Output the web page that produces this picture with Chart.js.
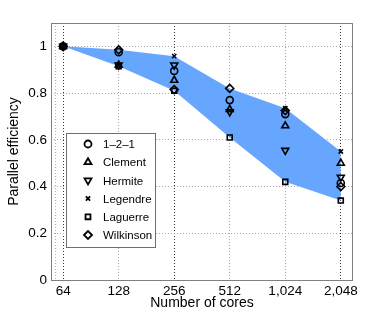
<!DOCTYPE html>
<html>
<head>
<meta charset="utf-8">
<script src="https://cdn.jsdelivr.net/npm/chart.js@4.4.1/dist/chart.umd.min.js"></script>
<style>
  html, body { margin: 0; padding: 0; background: #fff; }
  #wrap { width: 390px; height: 314px; }
</style>
</head>
<body>
<div id="wrap"><canvas id="myChart" width="390" height="314"></canvas></div>
<script>
  // cores on the x axis, efficiency per method
  let cores = [64, 128, 256, 512, 1024, 2048];
  let coreLabels = ['64', '128', '256', '512', '1,024', '2,048'];
  let yTicks = [0, 0.2, 0.4, 0.6, 0.8, 1];

  let oneTwoOne = [1, 0.975, 0.895, 0.77, 0.71, 0.415];
  let clement   = [1, 0.92, 0.855, 0.73, 0.66, 0.50];
  let hermite   = [1, 0.92, 0.92, 0.72, 0.555, 0.44];
  let legendre  = [1, 0.92, 0.958, 0.725, 0.735, 0.55];
  let laguerre  = [1, 0.915, 0.81, 0.61, 0.42, 0.34];
  let wilkinson = [1, 0.985, 0.815, 0.82, 0.725, 0.40];

  let names   = ['1\u20132\u20131', 'Clement', 'Hermite', 'Legendre', 'Laguerre', 'Wilkinson'];
  let series  = [oneTwoOne, clement, hermite, legendre, laguerre, wilkinson];
  let styles  = ['circle', 'triangle', 'triangle', 'crossRot', 'rect', 'rectRot'];
  let rots    = [0, 0, 180, 0, 0, 0];
  let radii   = [3.5, 4, 4, 3, 3.5, 4];

  const font = "'Liberation Sans', Arial, sans-serif";

  let datasets = [];
  for (let i = 0; i < series.length; i++) {
    datasets.push({
      label: names[i],
      data: cores.map((c, j) => ({x: c, y: series[i][j]})),
      showLine: false,
      pointStyle: styles[i],
      rotation: rots[i],
      pointRadius: radii[i],
      borderColor: '#000',
      backgroundColor: 'rgba(0,0,0,0)',
      pointBorderWidth: 1.6,
      order: 0
    });
  }
  // min/max envelope of all methods
  let upper = cores.map((c, j) => ({x: c, y: Math.max(...series.map(s => s[j]))}));
  let lower = cores.map((c, j) => ({x: c, y: Math.min(...series.map(s => s[j]))}));
  datasets.push({ label: 'max', data: upper, showLine: true, borderWidth: 0, pointRadius: 0, fill: false, order: 10 });
  datasets.push({ label: 'min', data: lower, showLine: true, borderWidth: 0, pointRadius: 0,
    fill: '-1', backgroundColor: '#66a6ff', order: 10 });

  const boxAndLegend = {
    id: 'boxAndLegend',
    afterDatasetsDraw(chart) {
      const ctx = chart.ctx;
      const a = chart.chartArea;
      ctx.save();
      ctx.strokeStyle = '#808080';
      ctx.lineWidth = 1;
      ctx.strokeRect(a.left + 0.5, a.top + 0.5, a.right - a.left - 1, a.bottom - a.top);

      // legend box
      let lx = 66, ly = 133, lw = 89, lh = 114;
      ctx.fillStyle = '#fff';
      ctx.fillRect(lx, ly, lw, lh);
      ctx.strokeStyle = '#707070';
      ctx.strokeRect(lx + 0.5, ly + 0.5, lw, lh);
      ctx.font = '11.5px ' + font;
      ctx.textBaseline = 'middle';
      for (let i = 0; i < names.length; i++) {
        let y = ly + 11 + i * 18.2;
        ctx.strokeStyle = '#000';
        ctx.fillStyle = 'rgba(0,0,0,0)';
        ctx.lineWidth = 1.8;
        Chart.helpers.drawPoint(ctx, {pointStyle: styles[i], rotation: rots[i], radius: radii[i], borderWidth: 1.8}, 88, y);
        ctx.fillStyle = '#000';
        ctx.fillText(names[i], 103, y + 1);
      }
      ctx.restore();
    }
  };

  let ctx = document.getElementById('myChart').getContext('2d');
  let chart = new Chart(ctx, {
    type: 'scatter',
    data: { datasets: datasets },
    options: {
      responsive: false,
      animation: false,
      layout: { padding: { top: 23, right: 37, left: 0, bottom: 0 } },
      plugins: { legend: { display: false }, tooltip: { enabled: false } },
      scales: {
        x: {
          type: 'logarithmic',
          min: 55,
          max: 2385,
          afterBuildTicks: s => { s.ticks = [58].concat(cores).map(v => ({value: v})); },
          afterFit: s => { s.height = 34; },
          ticks: {
            color: '#000',
            font: { family: font, size: 13.5 },
            padding: 3,
            maxRotation: 0,
            autoSkip: false,
            callback: v => { let i = cores.indexOf(v); return i < 0 ? '' : coreLabels[i]; }
          },
          grid: {
            drawTicks: false,
            color: c => ([64, 256, 2048].includes(c.tick && c.tick.value) ? '#333' : '#aaa'),
            lineWidth: 1
          },
          border: { display: false, dash: [1, 2] },
          title: { display: true, text: 'Number of cores', color: '#000',
            font: { family: font, size: 14 }, padding: { top: 0, bottom: 2 } }
        },
        y: {
          min: 0,
          max: 1.1,
          afterBuildTicks: s => { s.ticks = yTicks.map(v => ({value: v})); },
          afterFit: s => { s.width = 51; },
          ticks: {
            color: '#000',
            font: { family: font, size: 13.5 },
            padding: 4,
            callback: v => String(v)
          },
          grid: { drawTicks: false, color: '#aaa', lineWidth: 1 },
          border: { display: false, dash: [1, 2] },
          title: { display: true, text: 'Parallel efficiency', color: '#000',
            font: { family: font, size: 14 }, padding: { top: 6, bottom: 0 } }
        }
      }
    },
    plugins: [boxAndLegend]
  });
</script>
</body>
</html>
